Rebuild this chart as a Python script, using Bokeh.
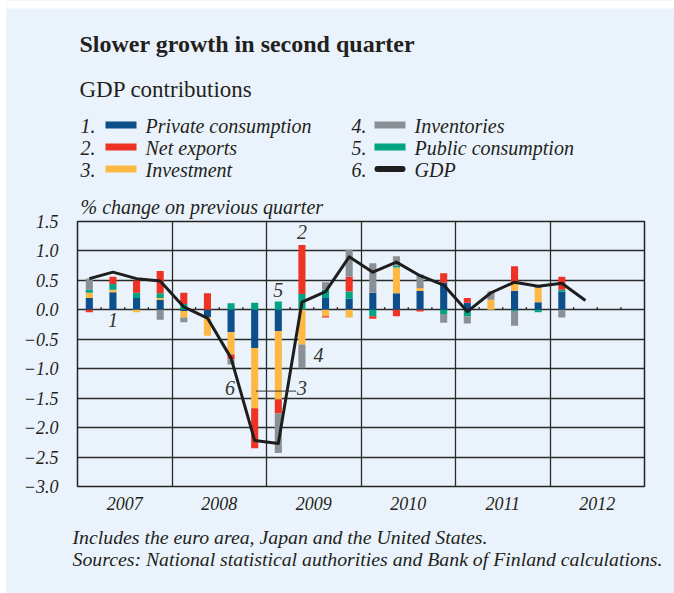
from bokeh.plotting import figure
from bokeh.layouts import column
from bokeh.models import (Range1d, FixedTicker, CustomJSTickFormatter, Label,
                          ColumnDataSource, Title)
from bokeh.embed import file_html
from bokeh.resources import INLINE
import numpy as np

# ---------------- data (percentage-point contributions, q/q) ----------------
years = ["2007", "2008", "2009", "2010", "2011", "2012"]
# quarters 2007Q1 .. 2012Q1 (21 bars)
private = [0.20, 0.30, 0.20, 0.17, -0.02, -0.12, -0.38, -0.65, -0.36, 0.00, 0.20,
           0.19, 0.29, 0.28, 0.32, 0.46, 0.12, 0.00, 0.32, 0.13, 0.31]
investment = [0.09, 0.04, -0.04, 0.03, -0.11, -0.32, -0.38, -1.02, -1.16, -0.59, -0.11,
              -0.13, 0.00, 0.44, 0.05, 0.00, 0.00, 0.17, 0.15, 0.24, 0.00]
public = [0.05, 0.10, 0.09, 0.08, 0.10, 0.00, 0.11, 0.12, 0.14, 0.27, 0.14,
          0.12, -0.11, 0.03, 0.00, -0.07, -0.11, 0.00, -0.02, -0.04, 0.03]
net_exports = [-0.04, 0.12, 0.21, 0.38, 0.19, 0.28, -0.08, -0.68, -0.24, 0.83, -0.02,
               0.25, -0.04, -0.11, -0.03, 0.16, 0.08, 0.00, 0.27, 0.00, 0.22]
inventories = [0.19, 0.00, 0.00, -0.17, -0.08, 0.00, -0.09, 0.00, -0.67, -0.40, 0.13,
               0.46, 0.50, 0.16, 0.23, -0.15, -0.12, 0.14, -0.25, 0.05, -0.13]
# GDP 2007Q1 .. 2012Q2 (22 points)
gdp = [0.53, 0.64, 0.53, 0.49, 0.05, -0.14, -0.82, -2.22, -2.27, 0.13, 0.31,
       0.90, 0.64, 0.81, 0.58, 0.42, -0.03, 0.29, 0.47, 0.40, 0.45, 0.16]

# stacking order (from zero outwards)
series_names = ["Private consumption", "Investment", "Public consumption",
                "Net exports", "Inventories"]
series_vals = [private, investment, public, net_exports, inventories]
series_cols = ["#0D4F8B", "#FDB943", "#00A382", "#EE3224", "#8B9096"]
col_of = dict(zip(series_names, series_cols))

# legend layout (numbered, two columns)
legend_col1 = ["Private consumption", "Net exports", "Investment"]
legend_col2 = ["Inventories", "Public consumption", "GDP"]

BG = "#EAF3FB"
INK = "#231F20"
FONT = "Liberation Serif"
W = 668          # panel width (page starts it 6px in)
DX = 6           # panel left offset on the page

n_q = 4 * len(years)
n_bar = len(private)
xc = np.arange(n_bar) + 0.5

pos_base = np.zeros(n_bar)
neg_base = np.zeros(n_bar)
stacks = []
for vals in series_vals:
    v = np.array(vals, dtype=float)
    bottom = np.where(v >= 0, pos_base, neg_base + v)
    top = np.where(v >= 0, pos_base + v, neg_base)
    pos_base = np.where(v >= 0, pos_base + v, pos_base)
    neg_base = np.where(v < 0, neg_base + v, neg_base)
    stacks.append((bottom, top))


def blank_fig(h):
    # pixel-space canvas: x from page-left, y from figure top
    f = figure(width=W, height=h, output_backend="svg", toolbar_location=None,
               x_range=Range1d(DX, DX + W), y_range=Range1d(h, 0),
               x_axis_location=None, y_axis_location=None, min_border=0,
               frame_align=False)
    f.background_fill_color = BG
    f.border_fill_color = BG
    f.outline_line_color = None
    f.xgrid.visible = False
    f.ygrid.visible = False
    return f


def txt(f, x, y, t, size, style="normal", align="left", color=INK):
    f.add_layout(Label(x=x, y=y, text=t, text_font=FONT, text_font_style=style,
                       text_font_size=size, text_color=color,
                       text_align=align, text_baseline="middle"))


# ---------------- header ----------------
HEAD_H = 185
FOOT_H = 75
head = blank_fig(HEAD_H)
head.quad(left=[DX], right=[DX + W], top=[0], bottom=[8], fill_color="white",
          line_color=None)
txt(head, 79, 43, "Slower growth in second quarter", "24px", "bold")
txt(head, 79, 89, "GDP contributions", "23px")
row_y = [125, 147, 169]
for k, (names, xnum, xsw, xtx) in enumerate([(legend_col1, 80, 105, 145),
                                              (legend_col2, 351, 374, 414)]):
    for i, nm in enumerate(names):
        y = row_y[i]
        txt(head, xnum, y, f"{3 * k + i + 1}.", "20px", "italic")
        txt(head, xtx, y, nm, "20px", "italic")
        if nm == "GDP":
            head.segment(x0=[xsw + 3], y0=[y - 0.5], x1=[xsw + 28], y1=[y - 0.5],
                         line_color="#1E1E1E", line_width=6, line_cap="round")
        else:
            head.quad(left=[xsw], right=[xsw + 31], top=[y - 4], bottom=[y + 3],
                      fill_color=col_of[nm], line_color=None)

# ---------------- main chart ----------------
MAIN_H = 593 - HEAD_H - FOOT_H
TOP_B = 221 - HEAD_H
p = figure(width=W, height=MAIN_H, output_backend="svg", toolbar_location=None,
           x_range=Range1d(0, n_q), y_range=Range1d(-3.0, 1.5),
           min_border_left=77 - DX, min_border_right=30, min_border_top=TOP_B,
           min_border_bottom=MAIN_H - TOP_B - 265, frame_align=False)
p.title = Title(text="% change on previous quarter", align="left", offset=3,
                standoff=8, text_font=FONT, text_font_style="italic",
                text_font_size="20px", text_color=INK)
p.background_fill_color = BG
p.border_fill_color = BG
p.outline_line_color = "#222222"
p.outline_line_width = 1.5

yt = [round(-3.0 + 0.5 * i, 1) for i in range(10)]
p.yaxis.ticker = FixedTicker(ticks=yt)
p.yaxis.formatter = CustomJSTickFormatter(
    code="return tick.toFixed(1).replace('-', '\u2212');")
p.yaxis.axis_line_color = None
p.yaxis.major_tick_line_color = None
p.yaxis.minor_tick_line_color = None
p.yaxis.major_label_standoff = 13
p.yaxis.major_label_text_font = FONT
p.yaxis.major_label_text_font_style = "italic"
p.yaxis.major_label_text_font_size = "18px"
p.yaxis.major_label_text_color = INK
p.yaxis.major_label_text_baseline = "alphabetic"

xt = [4 * i + 2 for i in range(len(years))]
p.xaxis.ticker = FixedTicker(ticks=xt)
p.xaxis.major_label_overrides = {t: y for t, y in zip(xt, years)}
p.xaxis.axis_line_color = None
p.xaxis.major_tick_line_color = None
p.xaxis.minor_tick_line_color = None
p.xaxis.major_label_standoff = 4
p.xaxis.major_label_text_font = FONT
p.xaxis.major_label_text_font_style = "italic"
p.xaxis.major_label_text_font_size = "18px"
p.xaxis.major_label_text_color = INK

p.ygrid.ticker = FixedTicker(ticks=yt)
p.xgrid.ticker = FixedTicker(ticks=[4 * i for i in range(1, len(years))])
for g in (p.xgrid, p.ygrid):
    g.grid_line_color = "#2A2A2A"
    g.grid_line_width = 1.3

# small quarter ticks on the zero line
qt = [q for q in range(1, n_q) if q % 4 != 0]
p.segment(x0=qt, y0=[0] * len(qt), x1=qt, y1=[0.05] * len(qt),
          line_color="#333333", line_width=1.3)

for name, col, (b, t) in zip(series_names, series_cols, stacks):
    src = ColumnDataSource(dict(x=xc, bottom=b, top=t))
    p.vbar(x="x", bottom="bottom", top="top", width=0.3, source=src,
           fill_color=col, line_color=None)

gsrc = ColumnDataSource(dict(x=np.arange(len(gdp)) + 0.5, y=gdp))
p.line("x", "y", source=gsrc, line_color="#1E1E1E", line_width=3,
       line_join="round")


def chart_label(x, y, t):
    p.add_layout(Label(x=x, y=y, text=t, text_font=FONT, text_font_style="italic",
                       text_font_size="20px", text_color="#333333",
                       text_align="center", text_baseline="middle"))


chart_label(1.5, -0.17, "1")
chart_label(9.5, 1.33, "2")
chart_label(9.5, -1.33, "3")
chart_label(10.2, -0.77, "4")
chart_label(8.5, 0.33, "5")
chart_label(6.45, -1.33, "6")
p.segment(x0=[7.55], y0=[-1.38], x1=[9.25], y1=[-1.38], line_color="#333333",
          line_width=1)

# ---------------- footer ----------------
foot = blank_fig(FOOT_H)
txt(foot, 72, 18, "Includes the euro area, Japan and the United States.", "19.8px", "italic")
txt(foot, 72, 40, "Sources: National statistical authorities and Bank of Finland calculations.",
    "19.8px", "italic")

layout = column(head, p, foot, spacing=0,
                styles={"margin-left": f"{DX}px", "background-color": BG})
open("out.html", "w").write(file_html(layout, INLINE))
